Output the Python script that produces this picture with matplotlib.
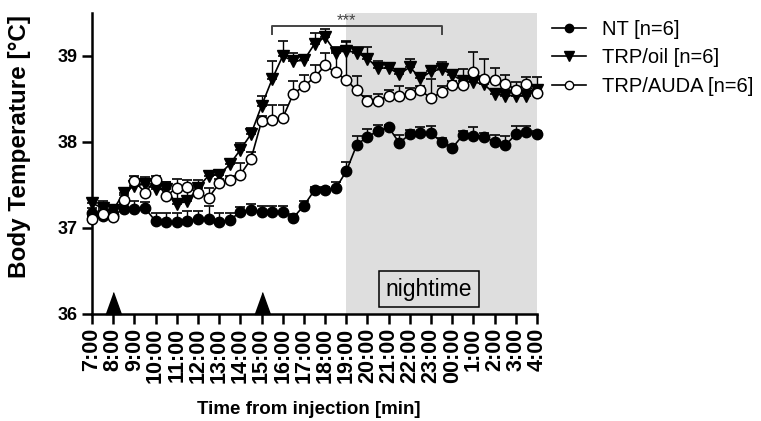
import matplotlib.pyplot as plt
import numpy as np
from matplotlib.lines import Line2D

plt.rcParams['font.family'] = ['Liberation Sans', 'DejaVu Sans']

# clock labels, one per hour starting 7:00
hour_labels = ["7:00", "8:00", "9:00", "10:00", "11:00", "12:00", "13:00",
               "14:00", "15:00", "16:00", "17:00", "18:00", "19:00", "20:00",
               "21:00", "22:00", "23:00", "00:00", "1:00", "2:00", "3:00",
               "4:00"]

# hours after 7:00
injection_times = [1, 8]
night_start, night_end = 12, 21
sig_start, sig_end = 8.5, 16.5

# half-hourly means and SEM
nt_mean = [37.18, 37.14, 37.15, 37.22, 37.22, 37.23, 37.08, 37.07, 37.07,
           37.08, 37.10, 37.10, 37.07, 37.09, 37.19, 37.21, 37.19, 37.19,
           37.19, 37.12, 37.26, 37.44, 37.44, 37.46, 37.66, 37.97, 38.06,
           38.13, 38.17, 37.99, 38.09, 38.11, 38.10, 38.00, 37.93, 38.08,
           38.07, 38.06, 38.00, 37.96, 38.09, 38.12, 38.09]
nt_sem = [0.05, 0.06, 0.05, 0.06, 0.09, 0.07, 0.10, 0.11, 0.11, 0.12, 0.10,
          0.15, 0.11, 0.09, 0.05, 0.07, 0.06, 0.07, 0.07, 0.04, 0.05, 0.04,
          0.04, 0.07, 0.11, 0.10, 0.09, 0.07, 0.03, 0.09, 0.05, 0.07, 0.09,
          0.05, 0.04, 0.05, 0.10, 0.04, 0.08, 0.11, 0.10, 0.07, 0.04]

oil_mean = [37.29, 37.23, 37.21, 37.41, 37.49, 37.51, 37.45, 37.45, 37.28,
            37.31, 37.47, 37.61, 37.62, 37.74, 37.91, 38.09, 38.42, 38.73,
            39.00, 38.94, 38.95, 39.14, 39.22, 39.04, 39.06, 39.04, 38.97,
            38.86, 38.86, 38.79, 38.87, 38.74, 38.82, 38.85, 38.78, 38.71,
            38.70, 38.67, 38.56, 38.54, 38.54, 38.54, 38.61]
oil_sem = [0.05, 0.08, 0.06, 0.05, 0.05, 0.05, 0.06, 0.08, 0.17, 0.14, 0.09,
           0.05, 0.05, 0.06, 0.08, 0.07, 0.12, 0.21, 0.18, 0.10, 0.05, 0.13,
           0.09, 0.06, 0.10, 0.07, 0.14, 0.08, 0.05, 0.05, 0.09, 0.05, 0.06,
           0.08, 0.04, 0.05, 0.05, 0.05, 0.06, 0.06, 0.09, 0.06, 0.15]

auda_mean = [37.10, 37.16, 37.13, 37.33, 37.55, 37.41, 37.56, 37.37, 37.47,
             37.48, 37.41, 37.35, 37.52, 37.56, 37.62, 37.80, 38.24, 38.26,
             38.28, 38.56, 38.65, 38.75, 38.89, 38.81, 38.72, 38.60, 38.48,
             38.48, 38.54, 38.54, 38.56, 38.60, 38.51, 38.58, 38.66, 38.66,
             38.81, 38.73, 38.72, 38.68, 38.61, 38.67, 38.57]
auda_sem = [0.04, 0.05, 0.05, 0.05, 0.05, 0.18, 0.05, 0.17, 0.10, 0.08, 0.08,
            0.12, 0.05, 0.05, 0.13, 0.08, 0.06, 0.17, 0.15, 0.15, 0.13, 0.14,
            0.15, 0.25, 0.45, 0.17, 0.05, 0.08, 0.07, 0.11, 0.07, 0.05, 0.22,
            0.07, 0.05, 0.19, 0.24, 0.24, 0.14, 0.10, 0.09, 0.08, 0.08]

t = np.arange(len(nt_mean)) * 0.5

fig = plt.figure(figsize=(7.61, 4.21), dpi=100)
ax = fig.add_axes([92 / 761, 1 - 314 / 421, (537 - 92) / 761, (314 - 13) / 421])

ax.axvspan(night_start, night_end, color='#dedede', lw=0, zorder=0)

series = [
    (nt_mean, nt_sem, dict(marker='o', ms=7.5, mfc='black', mec='black')),
    (oil_mean, oil_sem, dict(marker='v', ms=8.5, mfc='black', mec='black')),
    (auda_mean, auda_sem, dict(marker='o', ms=7.5, mfc='white', mec='black',
                               mew=1.1)),
]
for k, (mean, sem, style) in enumerate(series):
    mean = np.array(mean)
    sem = np.array(sem)
    ax.errorbar(t, mean, yerr=[np.zeros_like(sem), sem], fmt='none',
                ecolor='black', elinewidth=1, capsize=3.5, capthick=1.2,
                zorder=2 + 2 * k, clip_on=False)
    ax.plot(t, mean, color='black', lw=1.2, zorder=3 + 2 * k, clip_on=False,
            **style)

# injection arrows
ax.plot(injection_times, [36] * len(injection_times), ls='none',
        marker=[(-0.36, 0), (0.36, 0), (0, 1)], ms=31.5, color='black',
        clip_on=False, zorder=10)

# significance bracket
ax.plot([sig_start, sig_start, sig_end, sig_end], [39.26, 39.35, 39.35, 39.26],
        color='#444444', lw=1.4, clip_on=False)
ax.text(12.0, 39.41, "***", ha='center', va='center', fontsize=12,
        color='#444444')

ax.text(15.9, 36.29, "nightime", ha='center', va='center', fontsize=16.5,
        bbox=dict(boxstyle='square,pad=0.3', fc='none', ec='black', lw=1.1))

ax.set_xlim(0, 21)
ax.set_ylim(36, 39.5)
ax.set_xticks(np.arange(len(hour_labels)))
ax.set_xticklabels(hour_labels, rotation=90, fontweight='bold', fontsize=15.5)
ax.set_yticks([36, 37, 38, 39])
ax.set_yticklabels(['36', '37', '38', '39'], fontweight='bold', fontsize=13)
ax.tick_params(width=1.8, length=7, direction='out', pad=3)
for side in ['top', 'right']:
    ax.spines[side].set_visible(False)
for side in ['left', 'bottom']:
    ax.spines[side].set_linewidth(1.8)

fig.text(309 / 761, 1 - 410 / 421, "Time from injection [min]", ha='center',
         va='center', fontsize=13.5, fontweight='bold')
fig.text(20 / 761, 1 - 146 / 421, "Body Temperature [°C]", ha='center',
         va='center', rotation=90, fontsize=17.5, fontweight='bold')

handles = [
    Line2D([], [], color='black', lw=1.2, marker='o', ms=6, mfc='black'),
    Line2D([], [], color='black', lw=1.2, marker='v', ms=6.5, mfc='black'),
    Line2D([], [], color='black', lw=1.2, marker='o', ms=6, mfc='white',
           mec='black'),
]
labels = ["NT [n=6]", "TRP/oil [n=6]", "TRP/AUDA [n=6]"]
ax.legend(handles, labels, loc='upper left',
          bbox_to_anchor=(552 / 761, 1 - 20 / 421),
          bbox_transform=fig.transFigure, frameon=False, fontsize=14.5,
          handlelength=1.7, handletextpad=0.8, labelspacing=0.47,
          borderaxespad=0, borderpad=0)

fig.savefig("out.png", dpi=100)
